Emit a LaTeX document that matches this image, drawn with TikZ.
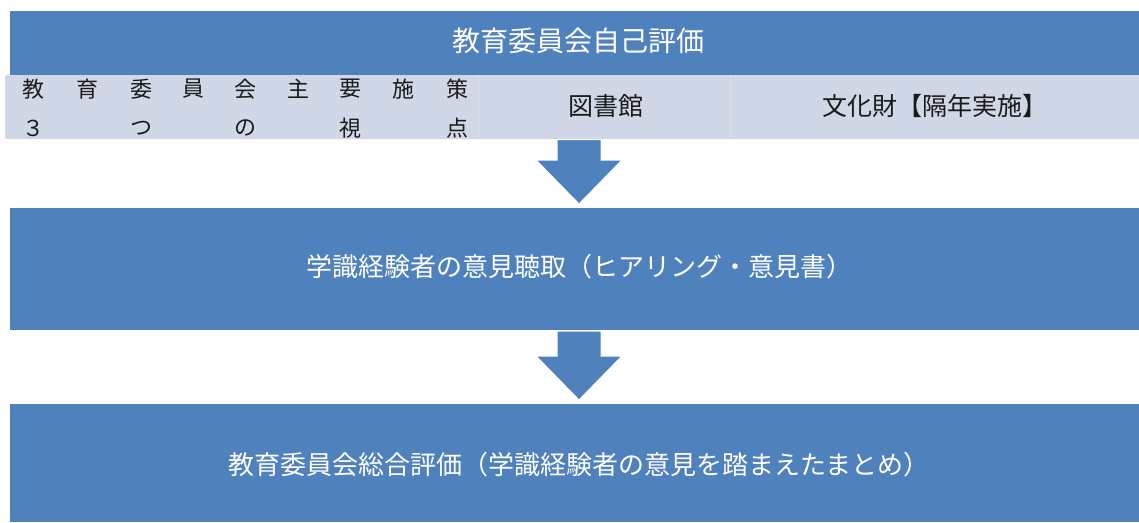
\documentclass[tikz,border=0pt]{standalone}
\usepackage{fontspec}
\setmainfont{Noto Sans CJK JP}
\newfontfamily\jp{Noto Sans CJK JP}
\definecolor{barblue}{HTML}{4F81BD}
\definecolor{rowgray}{HTML}{D0D8E8}
\definecolor{txtdark}{HTML}{1A1A1A}
\tikzset{
  bar/.style={fill=barblue, draw=none, anchor=north west, inner sep=0pt, minimum width=1129pt},
  row/.style={fill=rowgray, draw=none, anchor=north west, inner sep=0pt, rounded corners=2pt},
  wtext/.style={text=white, inner sep=0pt, font=\jp\fontsize{26}{28}\selectfont},
  dtext/.style={text=txtdark, inner sep=0pt, font=\jp\fontsize{25}{27}\selectfont},
  ctext/.style={text=txtdark, inner sep=0pt, font=\jp\fontsize{22}{24}\selectfont},
  blockarrow/.style={fill=barblue, draw=white, line width=1pt, line join=miter},
}
\begin{document}
\begin{tikzpicture}[x=1pt,y=-1pt]
\useasboundingbox (0,0) rectangle (1139,522);
% bars
\node[bar, minimum height=64pt] (top) at (10,11) {};
\node[row, minimum width=1140pt, minimum height=64pt] (row) at (5,75) {};
\node[bar, minimum height=122pt] (mid) at (10,208) {};
\node[bar, minimum height=118pt] (bot) at (10,404) {};
% faint cell separators
\draw[white, opacity=0.25, line width=0.6pt] (478,75) -- (478,139);
\draw[white, opacity=0.25, line width=0.6pt] (730,75) -- (730,139);
% arrows
\filldraw[blockarrow] (557,139.5) -- (601,139.5) -- (601,160) -- (622,160) -- (579,204) -- (536,160) -- (557,160) -- cycle;
\filldraw[blockarrow] (557,331) -- (601,331) -- (601,356) -- (622,356) -- (579,400) -- (536,356) -- (557,356) -- cycle;
% texts
\node[wtext, font=\jp\fontsize{28}{30}\selectfont] (ttop) at (578,41) {教育委員会自己評価};
\node[wtext] (tmid) at (579.5,267) {学識経験者の意見聴取（ヒアリング・意見書）};
\node[wtext] (tbot) at (579,465) {教育委員会総合評価（学識経験者の意見を踏まえたまとめ）};
\node[dtext] (lib) at (606,106) {図書館};
\node[dtext] (cul) at (935,106) {文化財【隔年実施】};
% left cell, distributed characters
\foreach \ch/\xx [count=\i] in {教/33,育/87,委/141,員/193,会/245,主/298,要/350,施/403,策/457}{
  \node[ctext] (a\i) at (\xx,89) {\ch};
}
\foreach \ch/\xx [count=\i] in {３/33,つ/141,の/245,視/350,点/457}{
  \node[ctext] (b\i) at (\xx,128) {\ch};
}
\end{tikzpicture}
\end{document}
